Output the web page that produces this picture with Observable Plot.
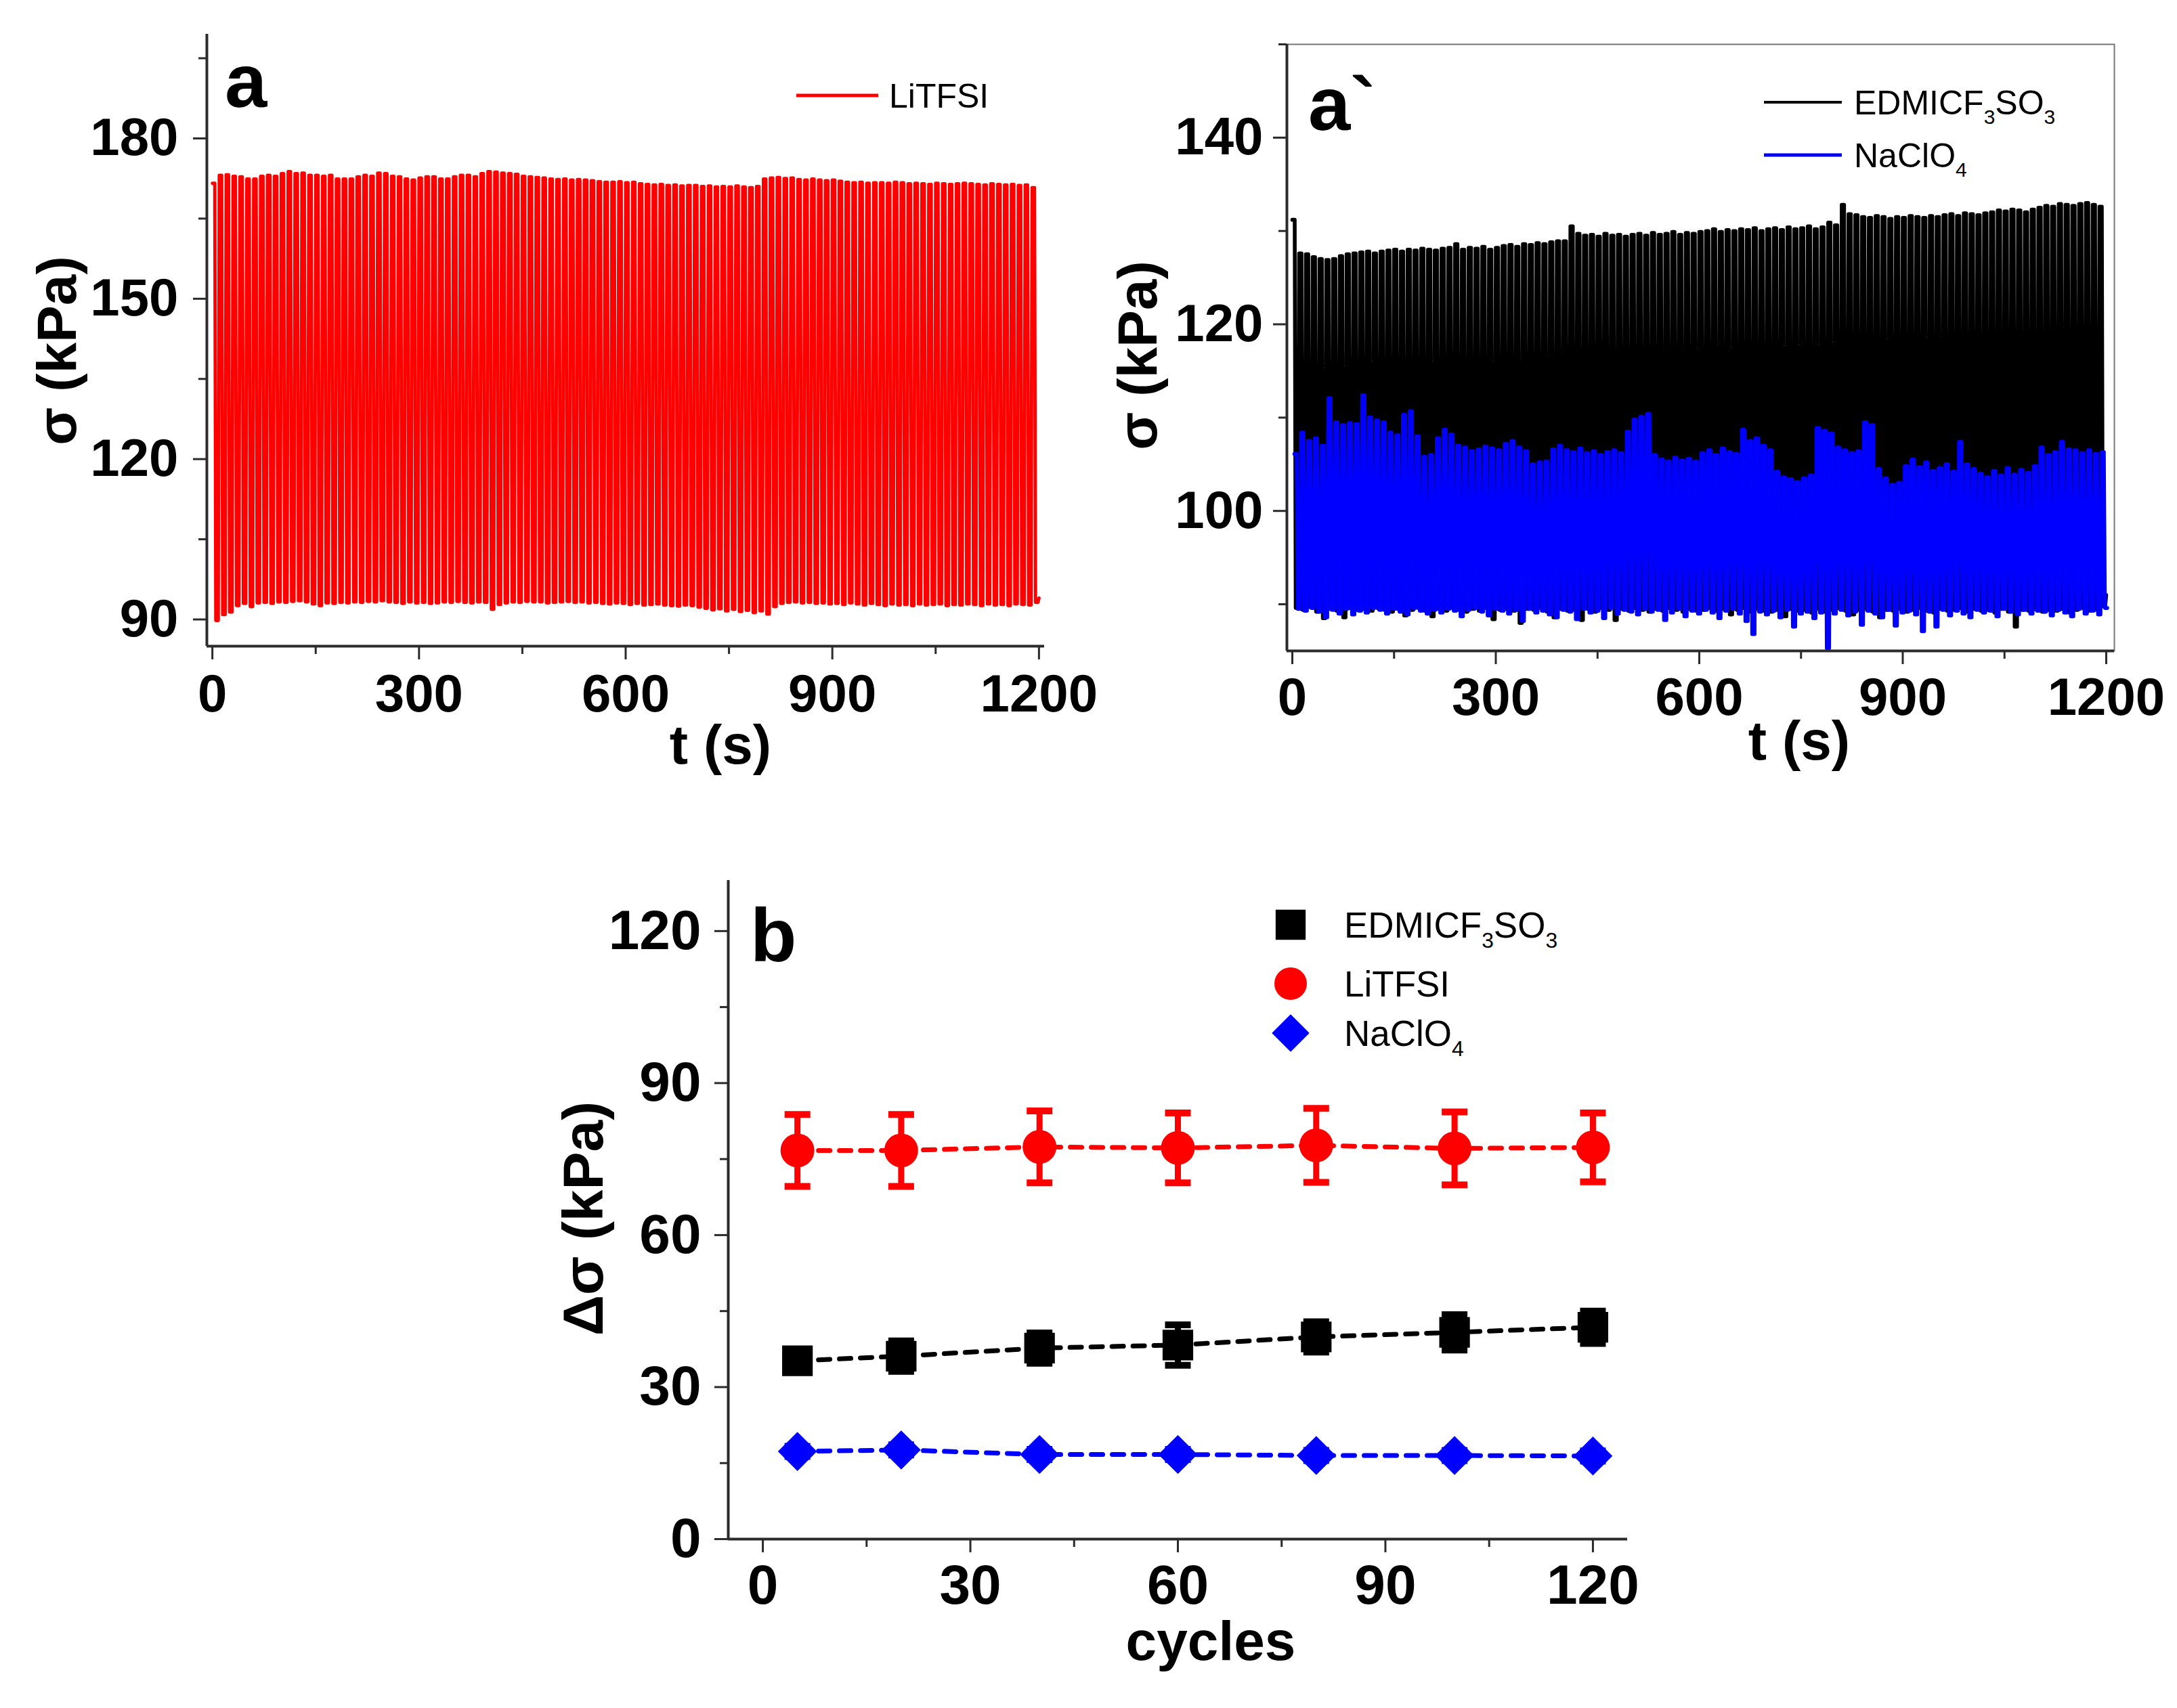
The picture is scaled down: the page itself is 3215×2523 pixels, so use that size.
<!DOCTYPE html>
<html><head><meta charset="utf-8">
<script src="https://cdn.jsdelivr.net/npm/d3@7"></script>
<script src="https://cdn.jsdelivr.net/npm/@observablehq/plot@0.6"></script>
<style>
body{margin:0;background:#fff;}
#root{position:relative;width:3215px;height:2523px;background:#fff;overflow:hidden;}
#root svg{position:absolute;overflow:visible;}
</style></head><body><div id="root"></div>
<script>
// ---------- panel a : LiTFSI, peak (t = 10 i) and trough (t = 10 i + 5) of each 10 s cycle ----------
const litfsiPeaks = [171.6,173.1,173.2,172.9,172.8,172.4,172.4,172.9,173.1,172.9,
173.4,173.8,173.4,173.5,173.1,173.1,172.9,173.1,172.4,172.4,
172.4,172.8,173.1,172.9,173.5,173.4,172.9,172.8,172.4,172.2,
172.6,172.8,172.8,172.4,172.4,172.8,173.1,173.1,172.8,173.4,
173.8,173.7,173.5,173.4,173.3,172.9,172.8,172.7,172.6,172.4,
172.3,172.4,172.2,172.3,172.2,172.1,171.9,171.8,171.8,171.9,
171.7,171.8,171.5,171.4,171.3,171.4,171.2,171.3,171.1,171.2,
171.2,171.0,171.1,170.9,171.0,170.9,171.1,170.9,170.8,171.0,
172.4,172.6,172.7,172.5,172.6,172.3,172.2,172.4,172.2,172.1,
172.2,172.0,171.8,171.7,171.8,171.6,171.7,171.7,171.6,171.8,
171.7,171.5,171.6,171.5,171.4,171.6,171.5,171.4,171.5,171.6,
171.5,171.4,171.3,171.5,171.4,171.3,171.4,171.2,171.3,170.8];
const litfsiTroughs = [89.8,90.9,91.4,92.6,93.0,92.4,93.1,93.2,93.0,93.3,
93.2,93.4,93.5,93.3,92.9,92.6,93.1,93.0,93.2,93.1,
93.3,93.2,93.4,93.3,93.5,93.3,93.2,93.0,93.3,93.1,
93.2,93.0,93.1,93.3,93.2,93.4,93.2,93.1,93.3,93.2,
91.9,92.8,93.1,93.3,93.2,93.4,93.3,93.3,93.1,93.2,
93.3,93.4,93.2,93.3,93.1,93.2,93.0,92.9,93.1,93.0,
92.8,93.0,92.7,92.8,92.9,92.7,92.6,92.5,92.7,92.6,
92.3,92.1,91.8,92.0,91.6,91.9,91.5,91.7,91.3,91.6,
91.0,92.4,93.0,93.2,93.3,93.1,93.2,93.0,93.1,92.9,
93.0,92.8,93.1,92.9,92.7,93.0,92.8,92.6,92.9,92.7,
92.8,92.6,92.9,92.7,92.8,92.9,92.6,92.8,92.7,92.9,
92.8,92.6,92.9,92.7,92.8,92.6,92.9,92.8,92.7,93.2];
const litfsiEnd = 94.0;

// ---------- panel a` : EDMICF3SO3 and NaClO4 ----------
const edmiPeaks = [131.2,127.6,127.5,127.2,127.0,126.9,127.0,127.3,127.5,127.6,
127.7,127.8,127.6,127.8,127.9,128.0,127.8,128.0,127.9,128.1,
128.0,127.9,128.1,128.2,128.6,128.0,128.2,128.1,128.3,128.0,
128.2,128.4,128.5,128.3,128.6,128.5,128.7,128.6,128.8,128.9,
128.9,130.5,129.7,129.5,129.6,129.4,129.7,129.5,129.6,129.4,
129.6,129.7,129.5,129.8,129.6,129.7,129.9,129.6,129.8,129.7,
129.9,130.0,130.2,129.9,130.1,130.0,130.2,130.1,130.3,130.0,
130.2,130.3,130.1,130.4,130.2,130.3,130.5,130.2,130.4,130.9,
130.6,132.8,131.8,131.7,131.5,131.4,131.6,131.5,131.3,131.5,
131.4,131.6,131.5,131.4,131.6,131.5,131.7,131.8,131.6,131.9,
131.8,131.7,131.9,132.0,132.2,132.1,132.3,132.2,132.0,132.3,
132.5,132.7,132.6,132.9,132.8,132.7,132.9,133.0,132.8,132.6];
const edmiTroughs = [89.6,89.4,89.7,89.2,88.5,89.5,89.3,88.6,89.6,89.4,
89.5,89.3,89.6,89.4,89.2,89.5,88.8,89.4,89.6,89.3,
88.7,89.5,89.3,89.6,89.4,89.2,89.5,89.3,89.6,88.4,
89.4,89.5,89.3,88.0,89.5,89.4,89.6,89.2,88.6,89.5,
89.3,89.4,88.3,89.5,89.2,89.6,89.4,88.3,89.5,89.3,
89.6,89.4,89.2,89.5,89.3,89.6,89.4,89.2,89.5,89.3,
89.4,89.6,89.3,89.5,88.9,89.4,89.6,89.2,89.5,89.3,
89.2,89.4,88.7,89.5,89.3,89.4,89.1,89.5,89.2,89.4,
89.6,89.3,88.9,89.4,89.5,89.2,88.6,89.4,89.3,89.5,
89.2,89.4,89.6,89.3,89.1,89.5,89.3,89.4,89.6,89.2,
89.5,89.3,89.4,89.1,89.5,89.2,87.6,89.4,89.3,89.5,
89.2,89.4,89.3,89.5,89.1,89.4,89.6,89.3,89.4,89.8];
const edmiEnd = 91.0;
const naclo4Peaks = [106.1,108.4,107.5,107.8,107.0,112.1,109.5,109.2,109.4,109.3,
112.4,110.0,109.7,109.5,108.4,108.1,110.3,110.7,108.0,105.8,
106.0,107.8,108.7,108.2,107.0,106.8,106.4,106.6,106.9,106.7,
106.5,107.2,107.5,106.8,106.4,105.0,105.2,105.3,106.6,107.0,
106.5,106.3,106.7,106.2,106.4,106.0,106.3,106.5,106.2,108.5,
109.8,110.1,110.4,106.0,105.5,105.3,105.7,105.4,105.6,105.3,
106.2,106.5,106.0,106.7,106.3,106.1,108.7,107.5,107.8,107.0,
106.5,104.2,103.6,103.4,103.1,103.5,103.8,108.9,108.6,108.3,
106.8,106.5,106.2,106.4,109.5,109.2,104.5,103.5,102.8,103.0,
104.8,105.5,104.7,105.2,104.3,104.6,105.0,104.2,107.4,105.0,
104.5,104.0,103.6,104.3,103.8,104.6,103.9,104.4,104.1,104.8,
106.8,106.0,106.3,107.4,106.6,106.5,106.2,106.5,106.1,106.3];
const naclo4Troughs = [89.5,89.3,89.6,89.2,88.6,89.4,89.0,89.5,88.9,89.3,
89.1,89.6,89.4,89.0,89.5,89.2,88.9,89.6,89.3,89.0,
89.4,89.1,89.5,89.3,88.7,89.4,89.6,89.2,88.8,89.5,
89.3,89.0,89.4,88.2,89.5,89.1,89.3,88.9,88.6,89.4,
89.2,88.4,89.5,89.1,89.3,88.5,89.6,89.0,89.4,89.2,
88.9,89.5,89.2,89.4,88.3,89.1,89.5,88.7,89.3,89.0,
89.4,89.1,88.5,89.3,89.5,89.0,88.2,86.8,89.2,88.9,
89.3,88.6,89.4,87.6,89.0,89.2,88.5,89.1,85.3,89.0,
89.4,88.8,89.2,87.8,89.3,89.0,88.6,89.4,87.7,89.1,
89.3,88.9,87.1,89.2,87.6,89.4,88.8,89.3,89.0,88.6,
89.4,89.1,89.3,88.7,89.5,89.2,88.9,89.4,89.0,89.3,
89.2,88.8,89.4,89.1,88.7,89.5,89.0,89.3,88.9,89.6];

// ---------- panel b ----------
const cycles = [5, 20, 40, 60, 80, 100, 120];
const edmiMean = [35.2, 36.1, 37.7, 38.3, 39.9, 40.8, 41.8];
const edmiErr = [2.0, 3.0, 3.0, 4.0, 3.0, 3.5, 3.2];
const litfsiMean = [76.7, 76.7, 77.4, 77.2, 77.7, 77.1, 77.3];
const litfsiErr = [7.1, 7.1, 7.1, 6.9, 7.3, 7.2, 6.8];
const naclo4Mean = [17.3, 17.6, 16.7, 16.7, 16.5, 16.5, 16.4];
const naclo4Err = [1.0, 1.0, 1.0, 1.0, 1.0, 1.0, 1.0];

// ---------- ticks ----------
const tTicks = [0, 300, 600, 900, 1200];
const tMinor = [150, 450, 750, 1050];
const aYTicks = [90, 120, 150, 180];
const aYMinor = [105, 135, 165, 195];
const a2YTicks = [100, 120, 140];
const a2YMinor = [90, 110, 130, 150];
const bTicks = [0, 30, 60, 90, 120];
const bMinor = [15, 45, 75, 105];

const RED = "#ff0000", BLUE = "#0000ff", BLACK = "#000000", AX = "#2b2b2b";
const FONT = "'Liberation Sans', Arial, Helvetica, sans-serif";

// square-ish stroke through each cycle's read peak and trough
function wave(peaks, troughs, shift, endValue) {
  const pts = [];
  peaks.forEach((p, i) => {
    const t0 = i * 10 + shift;
    pts.push({t: t0, v: p}, {t: t0 + 3.5, v: p}, {t: t0 + 5, v: troughs[i]}, {t: t0 + 8.5, v: troughs[i]});
  });
  if (endValue != null) pts.push({t: 1200, v: endValue});
  return pts;
}
const waveLi = wave(litfsiPeaks, litfsiTroughs, 0, litfsiEnd);
const waveEd = wave(edmiPeaks, edmiTroughs, 0, edmiEnd);
const waveNa = wave(naclo4Peaks, naclo4Troughs, 3, null);

const root = document.getElementById("root");
function place(svg, left, top) {
  svg.style.position = "absolute"; svg.style.left = left + "px"; svg.style.top = top + "px";
  root.appendChild(svg);
}
const fmt = d3.format("d");
function axes(xt, xm, yt, ym, xpad, ypad) {
  return [
    Plot.axisX(xt, {tickSize: 20, tickPadding: xpad, strokeWidth: 3, stroke: AX, tickFormat: fmt, label: null}),
    Plot.axisX(xm, {tickSize: 12, strokeWidth: 3, stroke: AX, tickFormat: () => "", label: null}),
    Plot.axisY(yt, {tickSize: 20, tickPadding: ypad, strokeWidth: 3, stroke: AX, tickFormat: fmt, label: null}),
    Plot.axisY(ym, {tickSize: 12, strokeWidth: 3, stroke: AX, tickFormat: () => "", label: null})
  ];
}
const baseStyle = (fs) => ({fontFamily: FONT, fontSize: fs + "px", fontWeight: "bold", color: "#000", background: "transparent", overflow: "visible"});

// ---------- panel a ----------
const plotA = Plot.plot({
  width: 1600, height: 1200,
  marginLeft: 305, marginRight: 58, marginTop: 50, marginBottom: 246,
  x: {domain: [-8, 1208], label: null},
  y: {domain: [85, 199.5], label: null},
  style: baseStyle(78),
  marks: [
    Plot.line(waveLi, {x: "t", y: "v", stroke: RED, strokeWidth: 4.9}),
    Plot.ruleX([-8], {stroke: AX, strokeWidth: 4}),
    Plot.ruleY([85], {stroke: AX, strokeWidth: 4}),
    ...axes(tTicks, tMinor, aYTicks, aYMinor, 21, 22)
  ]
});
place(plotA, 0, 0);

// ---------- panel a` ----------
const plotA2 = Plot.plot({
  width: 1615, height: 1200,
  marginLeft: 300, marginRight: 93, marginTop: 65, marginBottom: 239,
  x: {domain: [-8, 1212], label: null},
  y: {domain: [85, 150], label: null},
  style: baseStyle(78),
  marks: [
    Plot.frame({stroke: "#777", strokeWidth: 2}),
    Plot.line(waveEd, {x: "t", y: "v", stroke: BLACK, strokeWidth: 5.6}),
    Plot.line(waveNa, {x: "t", y: "v", stroke: BLUE, strokeWidth: 5.6}),
    Plot.ruleX([-8], {stroke: AX, strokeWidth: 4}),
    Plot.ruleY([85], {stroke: AX, strokeWidth: 4}),
    ...axes(tTicks, tMinor, a2YTicks, a2YMinor, 19, 15)
  ]
});
place(plotA2, 1600, 0);

// ---------- panel b ----------
function rows(mean, err) { return cycles.map((c, i) => ({cycle: c, v: mean[i], lo: mean[i] - err[i], hi: mean[i] + err[i]})); }
const bEd = rows(edmiMean, edmiErr), bLi = rows(litfsiMean, litfsiErr), bNa = rows(naclo4Mean, naclo4Err);
const capSymbol = {draw(ctx) { ctx.moveTo(-19, -5); ctx.lineTo(19, -5); ctx.lineTo(19, 5); ctx.lineTo(-19, 5); ctx.closePath(); }};
function seriesMarks(data, color, symbol, r) {
  return [
    Plot.line(data, {x: "cycle", y: "v", stroke: color, strokeWidth: 7, strokeDasharray: "17,14"}),
    Plot.ruleX(data, {x: "cycle", y1: "lo", y2: "hi", stroke: color, strokeWidth: 9}),
    Plot.dot(data, {x: "cycle", y: "hi", symbol: capSymbol, fill: color, stroke: null}),
    Plot.dot(data, {x: "cycle", y: "lo", symbol: capSymbol, fill: color, stroke: null}),
    Plot.dot(data, {x: "cycle", y: "v", symbol, r, fill: color, stroke: null})
  ];
}
const plotB = Plot.plot({
  width: 3215, height: 1323,
  marginLeft: 1075, marginRight: 812, marginTop: 100, marginBottom: 250,
  x: {domain: [-5, 125], label: null},
  y: {domain: [0, 130], label: null},
  style: baseStyle(82),
  marks: [
    ...seriesMarks(bEd, BLACK, "square", 25.5),
    ...seriesMarks(bLi, RED, "circle", 25),
    ...seriesMarks(bNa, BLUE, "diamond2", 26),
    Plot.ruleX([-5], {stroke: AX, strokeWidth: 4}),
    Plot.ruleY([0], {stroke: AX, strokeWidth: 4}),
    ...axes(bTicks, bMinor, bTicks, bMinor, 17, 20)
  ]
});
place(plotB, 0, 1200);

// ---------- text overlay: panel letters, axis titles, legends ----------
const ov = d3.create("svg").attr("width", 3215).attr("height", 2523)
  .style("position", "absolute").style("left", "0px").style("top", "0px")
  .attr("font-family", FONT);
function label(x, y, s, size, opts = {}) {
  const t = ov.append("text").attr("x", x).attr("y", y).attr("font-size", size)
    .attr("font-weight", opts.weight || "bold").attr("text-anchor", opts.anchor || "start").text(s);
  if (opts.rotate) t.attr("transform", `rotate(-90 ${x} ${y})`);
  return t;
}
function rich(x, y, parts, size) {
  const t = ov.append("text").attr("x", x).attr("y", y).attr("font-size", size).attr("font-weight", "normal");
  let shifted = false;
  parts.forEach(([s, sub]) => {
    const sp = t.append("tspan").text(s).attr("font-size", sub ? size * 0.6 : size);
    if (sub && !shifted) { sp.attr("dy", size * 0.28); shifted = true; }
    else if (!sub && shifted) { sp.attr("dy", -size * 0.28); shifted = false; }
  });
}
const nameEd = [["EDMICF"], ["3", true], ["SO"], ["3", true]];
const nameLi = [["LiTFSI"]];
const nameNa = [["NaClO"], ["4", true]];

// panel letters
label(332, 158, "a", 112);
label(1932, 192, "a`", 112);
label(1108, 1420, "b", 112);
// axis titles
label(1064, 1128, "t (s)", 82, {anchor: "middle"});
label(2657, 1122, "t (s)", 82, {anchor: "middle"});
label(112, 518, "σ (kPa)", 82, {anchor: "middle", rotate: true});
label(1708, 525, "σ (kPa)", 82, {anchor: "middle", rotate: true});
label(890, 1800, "Δσ (kPa)", 84, {anchor: "middle", rotate: true});
label(1788, 2452, "cycles", 82, {anchor: "middle"});

// legend panel a
ov.append("line").attr("x1", 1176).attr("x2", 1297).attr("y1", 141).attr("y2", 141).attr("stroke", RED).attr("stroke-width", 5);
rich(1313, 159, nameLi, 50);
// legend panel a`
ov.append("line").attr("x1", 2605).attr("x2", 2720).attr("y1", 151).attr("y2", 151).attr("stroke", BLACK).attr("stroke-width", 4);
rich(2738, 169, nameEd, 50);
ov.append("line").attr("x1", 2605).attr("x2", 2720).attr("y1", 229).attr("y2", 229).attr("stroke", BLUE).attr("stroke-width", 5);
rich(2738, 247, nameNa, 50);
// legend panel b
const legB = [[nameEd, BLACK, d3.symbolSquare, 25, 1366], [nameLi, RED, d3.symbolCircle, 24, 1453], [nameNa, BLUE, d3.symbolDiamond2, 25, 1526]];
legB.forEach(([nm, col, sym, r, y]) => {
  ov.append("path").attr("d", d3.symbol(sym, r * r * Math.PI)()).attr("transform", `translate(1906,${y})`).attr("fill", col);
  rich(1985, y + 19, nm, 53);
});
root.appendChild(ov.node());
</script>
</body></html>
